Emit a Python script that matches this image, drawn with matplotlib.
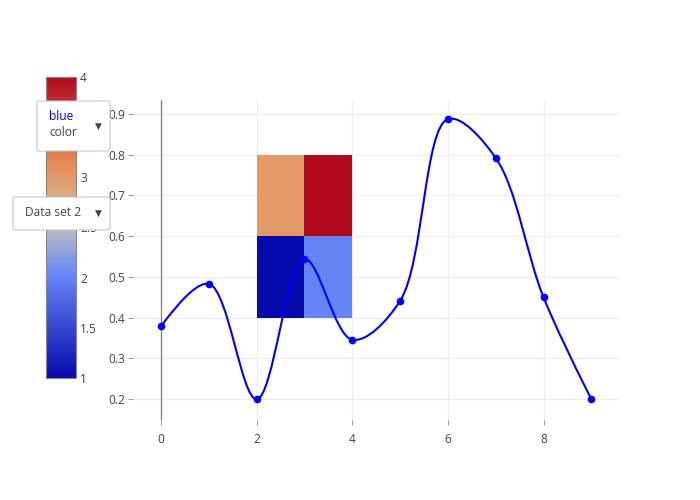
import numpy as np
import matplotlib
matplotlib.use("Agg")
import matplotlib.pyplot as plt
from matplotlib.colors import LinearSegmentedColormap
from matplotlib.path import Path
from matplotlib.patches import PathPatch, FancyBboxPatch

plt.rcParams['font.family'] = ['Open Sans', 'DejaVu Sans']

# line trace
line_x = [0, 1, 2, 3, 4, 5, 6, 7, 8, 9]
line_y = [0.379, 0.483, 0.2, 0.544, 0.346, 0.441, 0.887, 0.792, 0.45, 0.2]

# heatmap trace
heat_x_edges = [2, 3, 4]
heat_y_edges = [0.4, 0.6, 0.8]
heat_z = [[1, 2], [3, 4]]

cbar_ticks = [1, 1.5, 2, 2.5, 3, 3.5, 4]
x_ticks = [0, 2, 4, 6, 8]
y_ticks = [0.2, 0.3, 0.4, 0.5, 0.6, 0.7, 0.8, 0.9]

rdbu = [(0, (5/255, 10/255, 172/255)), (0.35, (106/255, 137/255, 247/255)),
        (0.5, (190/255, 190/255, 190/255)), (0.6, (220/255, 170/255, 132/255)),
        (0.7, (230/255, 145/255, 90/255)), (1, (178/255, 10/255, 28/255))]
cmap = LinearSegmentedColormap.from_list('plotly_rdbu', rdbu)

W, H = 700, 500
fig = plt.figure(figsize=(7, 5), dpi=100)

def fx(px):
    return px / W

def fy(py):
    return 1 - py / H

ax = fig.add_axes([fx(133), fy(420), (620 - 133) / W, (420 - 100) / H])
ax.set_xlim(-0.586, 9.6)
ax.set_ylim(0.149, 0.934)
for s in ax.spines.values():
    s.set_visible(False)
ax.set_xticks(x_ticks)
ax.set_yticks(y_ticks)
ax.set_xticklabels([str(t) for t in x_ticks])
ax.set_yticklabels([f"{t:.1f}" for t in y_ticks])
ax.tick_params(axis='both', colors='#444', labelsize=8.64, length=3.6, width=0.72)
ax.tick_params(axis='x', pad=6, color='#999')
ax.tick_params(axis='y', pad=2, color='#999')
ax.grid(True, color='#eeeeee', lw=0.9, zorder=0)
ax.set_axisbelow(True)
ax.axvline(0, color='#8a8a8a', lw=1.0, zorder=1.5)

mesh = ax.pcolormesh(heat_x_edges, heat_y_edges, np.array(heat_z), cmap=cmap,
                     vmin=1, vmax=4, zorder=1)

# plotly-style spline, computed in pixel space
pts = ax.transData.transform(np.column_stack([line_x, line_y]))

def make_tangent(p0, p1, p2, smooth=1.0):
    d1 = p0 - p1
    d2 = p2 - p1
    d1a = (d1 @ d1) ** 0.25
    d2a = (d2 @ d2) ** 0.25
    num = (d2a * d2a * d1 - d1a * d1a * d2) * smooth
    den1 = 3 * d2a * (d1a + d2a)
    den2 = 3 * d1a * (d1a + d2a)
    return p1 + num / den1, p1 - num / den2

tangents = [make_tangent(pts[i - 1], pts[i], pts[i + 1]) for i in range(1, len(pts) - 1)]
verts = [pts[0], tangents[0][0], pts[1]]
codes = [Path.MOVETO, Path.CURVE3, Path.CURVE3]
for i in range(2, len(pts) - 1):
    verts += [tangents[i - 2][1], tangents[i - 1][0], pts[i]]
    codes += [Path.CURVE4] * 3
verts += [tangents[-1][1], pts[-1]]
codes += [Path.CURVE3] * 2
verts = ax.transData.inverted().transform(np.array(verts))
ax.add_patch(PathPatch(Path(verts, codes), fill=False, edgecolor='#0000ff', lw=1.5, zorder=3))
ax.plot(line_x, line_y, 'o', color='#0000ff', ms=4.5, zorder=4)

# colorbar on the left
cax = fig.add_axes([fx(46), fy(378), 30 / W, (378 - 77) / H])
cb = fig.colorbar(mesh, cax=cax, ticks=cbar_ticks)
cb.outline.set_edgecolor('#888')
cb.outline.set_linewidth(0.8)
cb.ax.set_yticklabels([f"{t:g}" for t in cbar_ticks])
cb.ax.tick_params(length=0, pad=3, labelsize=8.64, colors='#444')

# dropdown menus
def dropdown(x0, y0, x1, y1):
    box = FancyBboxPatch((fx(x0), fy(y1)), (x1 - x0) / W, (y1 - y0) / H,
                         boxstyle='round,pad=0,rounding_size=0.004',
                         transform=fig.transFigure, facecolor='white',
                         edgecolor='#bec8d9', lw=0.8, zorder=10)
    fig.add_artist(box)
    fig.text(fx(x1 - 12), fy((y0 + y1) / 2), '▼', fontsize=6.5, color='#444',
             ha='center', va='center', zorder=11)

dropdown(37, 101, 110, 151)
fig.text(fx(49), fy(117), 'blue', color='#0000ff', fontsize=8.64, va='center', zorder=11)
fig.text(fx(49), fy(132), 'color', color='#444', fontsize=8.64, va='center', zorder=11)

dropdown(13, 197, 110, 230)
fig.text(fx(25), fy(213), 'Data set 2', color='#444', fontsize=8.64, va='center', zorder=11)

fig.savefig('out.png', dpi=100)
